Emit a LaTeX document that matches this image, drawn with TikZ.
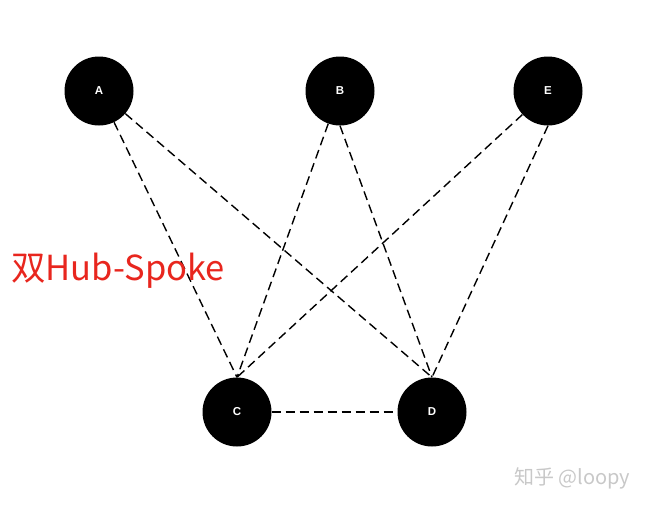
\documentclass[tikz,border=0pt]{standalone}
\usepackage{fontspec}
\setmainfont{Liberation Sans}
\newfontfamily\cjk{Noto Sans CJK SC}
\usepackage{tikz}

\definecolor{hubred}{RGB}{232,38,30}
\definecolor{markgray}{RGB}{200,200,200}

\tikzset{
  hub/.style={circle, fill=black, draw=none, minimum size=69pt, inner sep=0pt,
    text=white, font=\bfseries\fontsize{11.5}{13}\selectfont},
  link/.style={draw=black, line width=1.4pt, dash pattern=on 9pt off 5pt}
}

\begin{document}
\begin{tikzpicture}[x=1pt,y=1pt,yscale=-1,xscale=1]
\useasboundingbox (0,0) rectangle (647,507);

%Shape: Circle
    \node [hub] (A) at (99,91) {A};
%Shape: Circle
    \node [hub] (B) at (340,91) {B};
%Shape: Circle
    \node [hub] (E) at (548,91) {E};
%Shape: Circle
    \node [hub] (C) at (237,412) {C};
%Shape: Circle
    \node [hub] (D) at (432,412) {D};

%Straight Lines
    \draw [link] (A) -- (C.north) ;
    \draw [link] (A) -- (D.north) ;
    \draw [link] (B) -- (C.north) ;
    \draw [link] (B.south) -- (D.north) ;
    \draw [link] (E) -- (C.north) ;
    \draw [link] (E.south) -- (D.north) ;
    \draw [link] (C) -- (D) ;

% Text Node
    \node [anchor=base west, inner sep=0pt, text=hubred, font=\cjk\fontsize{34.5}{38}\selectfont] (title) at (11,280) {双Hub-Spoke};
% Text Node
    \node [anchor=base west, inner sep=0pt, text=markgray, font=\cjk\fontsize{20}{23}\selectfont] (mark) at (514,484) {知乎 @loopy};

\end{tikzpicture}
\end{document}
